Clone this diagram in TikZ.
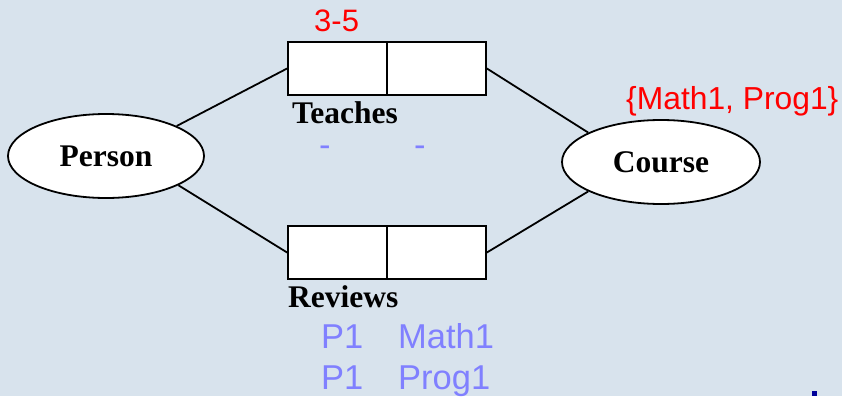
\documentclass[tikz,border=0pt]{standalone}
\usepackage{fontspec}
\setmainfont{Liberation Serif}
\setsansfont{Liberation Sans}
\usetikzlibrary{shapes.geometric}
\definecolor{bgc}{HTML}{D8E3ED}
\definecolor{redc}{HTML}{FF0000}
\definecolor{bluec}{HTML}{8080FF}
\tikzset{
  entity/.style={ellipse, draw=black, line width=1.8pt, fill=white, minimum width=196pt, minimum height=84pt, inner sep=0pt, font=\fontsize{31.5}{36}\selectfont\bfseries},
  relbox/.style={rectangle, draw=black, line width=1.8pt, fill=white, minimum width=198pt, minimum height=53pt, inner sep=0pt},
  conn/.style={line width=1.8pt, draw=black},
  lbl/.style={anchor=base west, inner sep=0pt, font=\fontsize{31.5}{36}\selectfont\bfseries},
  redt/.style={anchor=base west, inner sep=0pt, text=redc, font=\fontsize{31}{36}\selectfont\sffamily},
  bluet/.style={anchor=base west, inner sep=0pt, text=bluec, font=\fontsize{34.5}{40}\selectfont\sffamily}
}
\begin{document}
\begin{tikzpicture}[x=1pt,y=-1pt]
\useasboundingbox (0,0) rectangle (842,396);
\fill[bgc] (0,0) rectangle (842,396);
\node[entity] (person) at (106,156) {Person};
\node[entity, minimum width=198pt] (course) at (661,162) {Course};
\node[relbox] (teaches) at (387,68.5) {};
\node[relbox] (reviews) at (387,252.5) {};
\draw[conn] (teaches.north) -- (teaches.south);
\draw[conn] (reviews.north) -- (reviews.south);
\draw[conn] (person.23) -- (teaches.west);
\draw[conn] (teaches.east) -- (course.158);
\draw[conn] (person.-22) -- (reviews.west);
\draw[conn] (reviews.east) -- (course.-158);
\node[lbl] (tlabel) at (292,123) {Teaches};
\node[lbl] (rlabel) at (288,307) {Reviews};
\node[redt] (card) at (314,32) {3-5};
\node[redt, font=\fontsize{31.8}{36}\selectfont\sffamily] (dom) at (626,109) {\{Math1, Prog1\}};
\node[bluet] (d1) at (319,156) {-};
\node[bluet] (d2) at (414,156) {-};
\node[bluet] (r1a) at (321,348) {P1};
\node[bluet] (r1b) at (398,348) {Math1};
\node[bluet] (r2a) at (321,389) {P1};
\node[bluet] (r2b) at (398,389) {Prog1};
\fill[blue!60!black] (812,391) rectangle (817,396);
\end{tikzpicture}
\end{document}
